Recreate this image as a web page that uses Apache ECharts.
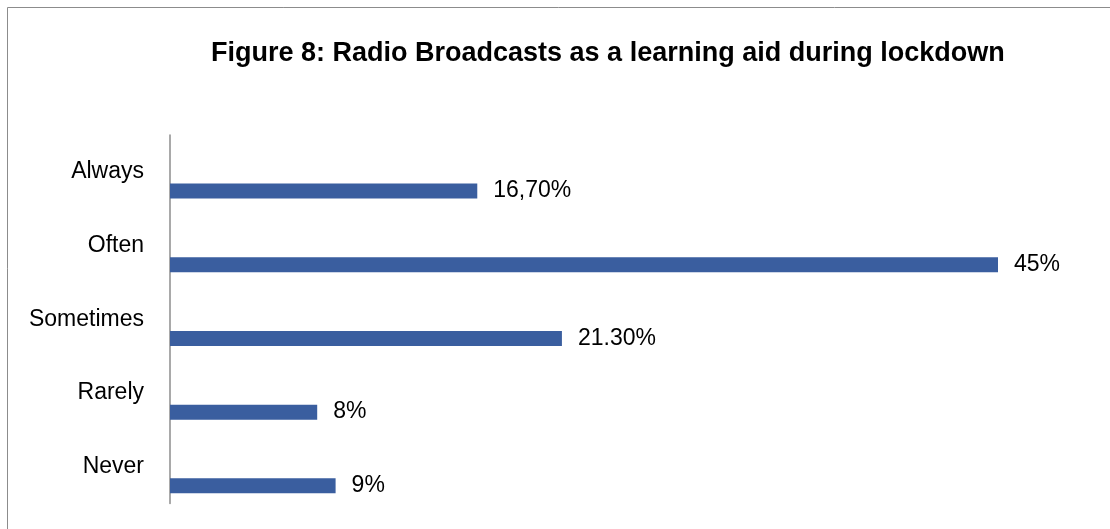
<!DOCTYPE html>
<html>
<head>
<meta charset="utf-8">
<title>Radio Broadcasts as a learning aid during lockdown</title>
<script src="https://cdn.jsdelivr.net/npm/echarts@6/dist/echarts.min.js"></script>
<style>
  html, body { margin: 0; padding: 0; background: #ffffff; }
  #chart { width: 1110px; height: 529px; }
</style>
</head>
<body>
<div id="chart"></div>
<script>
// Survey answers, top to bottom
const categories = ['Always', 'Often', 'Sometimes', 'Rarely', 'Never'];
// Share of respondents (percent)
const values = [16.7, 45, 21.3, 8, 9];
// Value labels as printed next to each bar
const valueLabels = ['16,70%', '45%', '21.30%', '8%', '9%'];

const FONT = '"Liberation Sans", Arial, sans-serif';
const BAR_COLOR = '#3a5e9f';
const FRAME_COLOR = '#8c8c8c';

const chart = echarts.init(document.getElementById('chart'), null, { renderer: 'canvas' });

chart.setOption({
  backgroundColor: '#ffffff',
  animation: false,
  title: {
    text: 'Figure 8: Radio Broadcasts as a learning aid during lockdown',
    left: 206,
    top: 35,
    textStyle: { fontFamily: FONT, fontSize: 27, fontWeight: 'bold', color: '#000000' }
  },
  // chart frame: only its top and left edges fall inside the page
  graphic: [
    {
      type: 'line',
      shape: { x1: 7.5, y1: 7.5, x2: 1110, y2: 7.5 },
      style: { stroke: FRAME_COLOR, lineWidth: 1 },
      silent: true
    },
    {
      type: 'line',
      shape: { x1: 7.5, y1: 7.5, x2: 7.5, y2: 529 },
      style: { stroke: FRAME_COLOR, lineWidth: 1 },
      silent: true
    }
  ],
  grid: { left: 170, right: 112, top: 135, bottom: 25.5, containLabel: false },
  xAxis: {
    type: 'value',
    min: 0,
    max: 45,
    show: false
  },
  yAxis: {
    type: 'category',
    data: categories,
    inverse: true,
    axisLine: { show: true, lineStyle: { color: FRAME_COLOR, width: 1.5 } },
    axisTick: { show: false },
    axisLabel: { margin: 26, fontFamily: FONT, fontSize: 23, color: '#000000' },
    splitLine: { show: false }
  },
  series: [
    {
      // empty slot that sits in the upper half of each band
      name: 'spacer',
      type: 'bar',
      data: categories.map(() => null),
      barWidth: 15,
      barGap: '156%',
      silent: true
    },
    {
      name: 'Share',
      type: 'bar',
      data: values,
      barWidth: 15,
      barGap: '156%',
      itemStyle: { color: BAR_COLOR },
      label: {
        show: true,
        position: 'right',
        distance: 16,
        fontFamily: FONT,
        fontSize: 23,
        color: '#000000',
        formatter: (p) => valueLabels[p.dataIndex]
      }
    }
  ]
});
</script>
</body>
</html>
